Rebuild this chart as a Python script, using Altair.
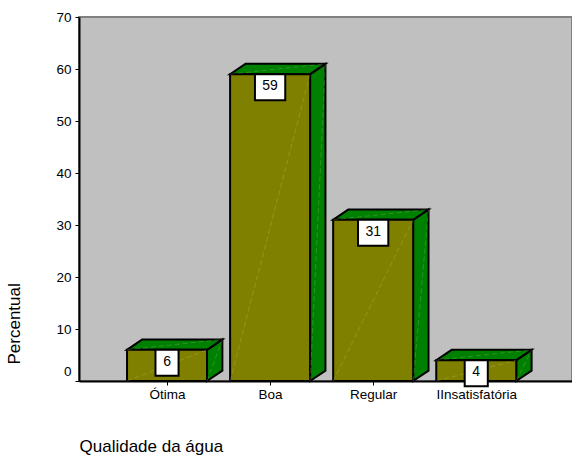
import json
import altair as alt
import pandas as pd

# Water quality classes and their share (%)
categories = ["Ótima", "Boa", "Regular", "IInsatisfatória"]
values = [6, 59, 31, 4]

# Geometry of the 3D boxes (in data units)
HALF_W = 0.388   # half width of the front face
DEPTH_X = 0.149  # horizontal depth offset
DEPTH_Y = 2.0    # vertical depth offset
BOX_H = 5.0      # height of the value label box

OLIVE = "#808000"
GREEN = "#008000"
FONT = "Liberation Sans"

front_rows, side_rows, top_rows, label_rows, seam_rows = [], [], [], [], []
for i, (cat, v) in enumerate(zip(categories, values)):
    xl, xr = i - HALF_W, i + HALF_W
    front_rows.append({"cat": cat, "xl": xl, "xr": xr, "y0": 0, "y1": v})
    side_rows.append({"cat": cat, "x": xr, "lo": 0, "hi": v})
    side_rows.append({"cat": cat, "x": xr + DEPTH_X, "lo": DEPTH_Y, "hi": v + DEPTH_Y})
    top_rows.append({"cat": cat, "y": v, "xa": xl, "xb": xr})
    top_rows.append({"cat": cat, "y": v + DEPTH_Y, "xa": xl + DEPTH_X, "xb": xr + DEPTH_X})
    # faint diagonal seams across each face
    for k, (p, q) in enumerate([((xl, 0), (xr, v)),
                                ((xr, 0), (xr + DEPTH_X, v + DEPTH_Y)),
                                ((xl, v), (xr + DEPTH_X, v + DEPTH_Y))]):
        seg = f"{cat}-{k}"
        seam_rows.append({"seg": seg, "x": p[0], "y": p[1], "o": 0})
        seam_rows.append({"seg": seg, "x": q[0], "y": q[1], "o": 1})
    hw = 0.147 if len(str(v)) > 1 else 0.112
    label_rows.append({"cat": cat, "v": v, "txt": str(v), "bl": i - hw, "br": i + hw,
                       "btop": v, "bbot": v - BOX_H, "ty": v - BOX_H / 2, "tx": i})

front = pd.DataFrame(front_rows)
side = pd.DataFrame(side_rows)
top = pd.DataFrame(top_rows)
seams = pd.DataFrame(seam_rows)
labels = pd.DataFrame(label_rows)

xscale = alt.Scale(domain=[-0.854, 3.929], nice=False, zero=False)
yscale = alt.Scale(domain=[0, 70], nice=False, zero=False)

label_expr = json.dumps(categories) + "[datum.value]"

x_axis = alt.Axis(
    values=list(range(len(categories))), labelExpr=label_expr, grid=False,
    title="Qualidade da água", titleFont=FONT, titleFontSize=17, titleFontWeight="normal",
    titleColor="black", titleAnchor="start", titleAlign="left", titleX=0, titleY=70,
    titleBaseline="alphabetic", labelFont=FONT, labelFontSize=13.5, labelColor="black",
    labelPadding=2, labelFlush=False, labelOverlap=False, domainColor="black", domainWidth=2,
    tickColor="black", tickSize=4, tickWidth=1,
)
y_axis = alt.Axis(
    values=list(range(0, 71, 10)), grid=False, title="Percentual", titleFont=FONT,
    titleFontSize=17, titleFontWeight="normal", titleColor="black", titleAngle=270,
    titleAlign="left", titleBaseline="alphabetic", titleX=-60, titleY=347,
    labelFont=FONT, labelFontSize=13.5, labelColor="black", labelPadding=4,
    labelOffset=alt.condition("datum.value == 0", alt.value(-10), alt.value(0)),
    domainColor="black", domainWidth=2, tickColor="black", tickSize=4, tickWidth=1,
)

# Right-hand side faces of the boxes
side_layer = alt.Chart(side).mark_area(
    color=GREEN, stroke="black", strokeWidth=2, strokeJoin="miter", opacity=1
).encode(
    x=alt.X("x:Q", scale=xscale, axis=x_axis),
    y=alt.Y("lo:Q", scale=yscale, axis=y_axis),
    y2="hi:Q",
    detail="cat:N",
)

# Top faces of the boxes
top_layer = alt.Chart(top).mark_area(
    orient="horizontal", color=GREEN, stroke="black", strokeWidth=2, strokeJoin="miter", opacity=1
).encode(
    y=alt.Y("y:Q", scale=yscale, axis=y_axis),
    x=alt.X("xa:Q", scale=xscale, axis=x_axis),
    x2="xb:Q",
    detail="cat:N",
)

# Front faces
front_layer = alt.Chart(front).mark_rect(
    color=OLIVE, stroke="black", strokeWidth=2, strokeJoin="miter"
).encode(
    x=alt.X("xl:Q", scale=xscale, axis=x_axis),
    x2="xr:Q",
    y=alt.Y("y0:Q", scale=yscale, axis=y_axis),
    y2="y1:Q",
)

# Faint seams across the faces
seam_layer = alt.Chart(seams).mark_line(
    color="#e0e0c0", strokeWidth=1, opacity=0.2, strokeDash=[5, 3]
).encode(
    x=alt.X("x:Q", scale=xscale, axis=x_axis),
    y=alt.Y("y:Q", scale=yscale, axis=y_axis),
    detail="seg:N",
    order="o:Q",
)

# Value label boxes and texts
box_layer = alt.Chart(labels).mark_rect(
    color="white", stroke="black", strokeWidth=2
).encode(
    x=alt.X("bl:Q", scale=xscale, axis=x_axis),
    x2="br:Q",
    y=alt.Y("bbot:Q", scale=yscale, axis=y_axis),
    y2="btop:Q",
)

text_layer = alt.Chart(labels).mark_text(
    font=FONT, fontSize=14, color="black", baseline="middle", align="center", dy=-1
).encode(
    x=alt.X("tx:Q", scale=xscale, axis=x_axis),
    y=alt.Y("ty:Q", scale=yscale, axis=y_axis),
    text="txt:N",
)

chart = alt.layer(
    side_layer, top_layer, front_layer, seam_layer, box_layer, text_layer
).properties(
    width=493, height=364, autosize="none", background="white",
    padding={"left": 79, "top": 17, "right": 0, "bottom": 74},
).configure_view(
    fill="#C0C0C0", stroke="#808080", strokeWidth=2
)

chart.save("out.html", embed_options={"renderer": "svg", "actions": False})
